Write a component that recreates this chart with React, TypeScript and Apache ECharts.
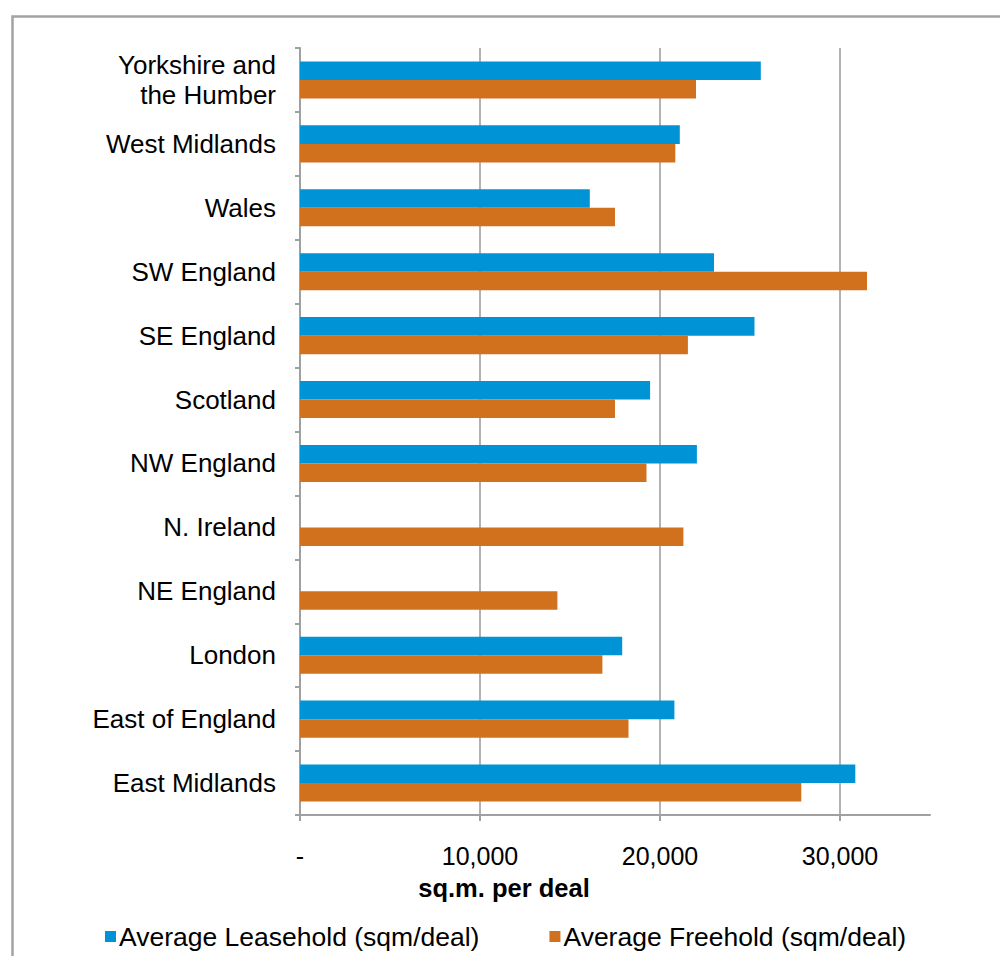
import React, { useEffect, useRef } from "react";
import * as echarts from "echarts";

// Categories from bottom to top (ECharts category y-axis starts at the bottom)
const regions = [
  "East Midlands",
  "East of England",
  "London",
  "NE England",
  "N. Ireland",
  "NW England",
  "Scotland",
  "SE England",
  "SW England",
  "Wales",
  "West Midlands",
  "Yorkshire and the Humber",
];

const leasehold: (number | null)[] = [
  30850, 20800, 17900, null, null, 22050, 19450, 25250, 23000, 16100, 21100, 25600,
];

const freehold: number[] = [
  27850, 18250, 16800, 14300, 21300, 19250, 17500, 21550, 31500, 17500, 20850, 22000,
];

const xTicks = [0, 10000, 20000, 30000];
const seriesNames = ["Average Leasehold (sqm/deal)", "Average Freehold (sqm/deal)"];
const xAxisTitle = "sq.m. per deal";

const FONT = "Liberation Sans, Arial, sans-serif";

export default function App() {
  const ref = useRef<HTMLDivElement>(null);

  useEffect(() => {
    document.body.style.margin = "0";
    const chart = echarts.init(ref.current!, null, { renderer: "svg" });
    chart.setOption({
      animation: false,
      backgroundColor: "#ffffff",
      textStyle: { fontFamily: FONT },
      graphic: [
        {
          type: "rect",
          left: 10,
          top: 14,
          shape: { width: 1010, height: 1000 },
          style: { fill: "none", stroke: "#a3a3a3", lineWidth: 2.5 },
          silent: true,
        },
      ],
      grid: { left: 300, right: 70, top: 48, bottom: 141, containLabel: false },
      legend: {
        data: seriesNames,
        left: 100,
        top: 918,
        icon: "rect",
        itemWidth: 11,
        itemHeight: 11,
        itemGap: 70,
        textStyle: { fontSize: 26.5, color: "#000", fontFamily: FONT, padding: [0, 0, 0, -2] },
      },
      xAxis: {
        type: "value",
        min: 0,
        max: 35000,
        interval: 10000,
        name: xAxisTitle,
        nameLocation: "middle",
        nameGap: 60,
        nameTextStyle: {
          fontSize: 25.5,
          fontWeight: "bold",
          color: "#000",
          fontFamily: FONT,
          padding: [0, 222, 0, 0],
        },
        axisLine: { show: true, lineStyle: { color: "#a0a0a0", width: 2 } },
        axisTick: { show: true, length: 6, customValues: xTicks, lineStyle: { color: "#a0a0a0", width: 2 } },
        axisLabel: {
          customValues: xTicks,
          margin: 28,
          fontSize: 25,
          color: "#000",
          fontFamily: FONT,
          formatter: (v: number) => (v === 0 ? "-" : v.toLocaleString("en-US")),
        },
        splitLine: { show: true, showMinLine: false, lineStyle: { color: "#b3b3b3", width: 2 } },
      },
      yAxis: {
        type: "category",
        data: regions,
        axisLine: { show: true, lineStyle: { color: "#a0a0a0", width: 2 } },
        axisTick: { show: true, length: 5, lineStyle: { color: "#a0a0a0", width: 2 } },
        axisLabel: {
          margin: 24,
          fontSize: 26,
          lineHeight: 30,
          color: "#000",
          fontFamily: FONT,
          formatter: (v: string) => v.replace(" and ", " and\n"),
        },
        splitLine: { show: false },
      },
      series: [
        {
          name: seriesNames[0],
          type: "bar",
          data: leasehold,
          itemStyle: { color: "#0094D6" },
          barGap: "0%",
          barCategoryGap: "42%",
        },
        {
          name: seriesNames[1],
          type: "bar",
          data: freehold,
          itemStyle: { color: "#D2711D" },
          barGap: "0%",
          barCategoryGap: "42%",
        },
      ],
    });
    return () => chart.dispose();
  }, []);

  return <div ref={ref} style={{ position: "absolute", left: 0, top: 0, width: 1000, height: 956 }} />;
}
